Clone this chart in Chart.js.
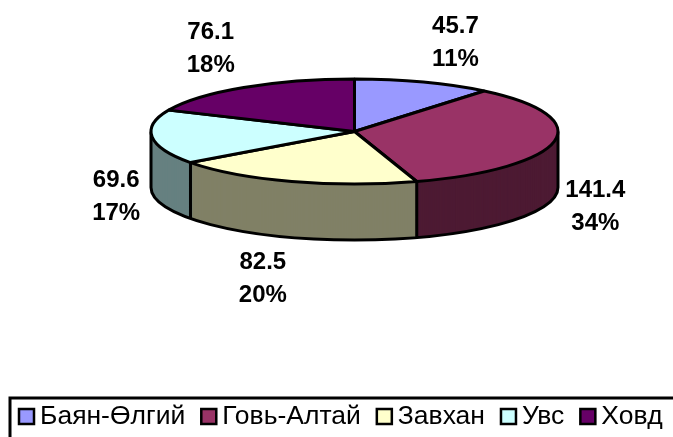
<!DOCTYPE html>
<html>
<head>
<meta charset="utf-8">
<style>
  html, body { margin: 0; padding: 0; background: #fff; overflow: hidden; }
  canvas { display: block; }
</style>
<script src="https://cdn.jsdelivr.net/npm/chart.js@4"></script>
</head>
<body>
<canvas id="pieChart" width="673" height="437"></canvas>
<script>
// Chart data
var categories = ['Баян-Өлгий', 'Говь-Алтай', 'Завхан', 'Увс', 'Ховд'];
var values = [45.7, 141.4, 82.5, 69.6, 76.1];

// Colours of the top face and the side wall
var topColors = ['#9999FF', '#993366', '#FFFFCC', '#CCFFFF', '#660066'];
var wallColors = ['#4D4D80', '#4D1A33', '#808066', '#668080', '#330033'];

// Where the tilted pie sits on the page
var tilt = { cx: 354.5, cy: 131.5, rx: 203.5, ry: 52.5, depth: 56 };

// Label offset from the rim point in the middle of each slice
var labelOffsets = [[32, -39], [41, 65], [-29, 97], [-36, 60], [-33, -39]];

var total = values.reduce(function (a, b) { return a + b; }, 0);

// Same transform for all copies of the pie, dy moves it down
function applyTilt(ctx, arc, dy) {
    var k = tilt.rx / arc.outerRadius;
    ctx.translate(tilt.cx, tilt.cy + dy);
    ctx.scale(k, k * tilt.ry / tilt.rx);
    ctx.translate(-arc.x, -arc.y);
}

function rimPoint(angle) {
    return { x: tilt.cx + tilt.rx * Math.cos(angle), y: tilt.cy + tilt.ry * Math.sin(angle) };
}

function drawCopy(ctx, arcs, colors, borderWidth, dy) {
    var base = ctx.getTransform();
    var nativeStroke = ctx.stroke;
    // path is built squashed, but the line keeps an even width
    ctx.stroke = function () {
        ctx.save();
        ctx.setTransform(base);
        nativeStroke.call(ctx);
        ctx.restore();
    };
    arcs.forEach(function (arc, i) {
        var copy = Object.create(arc);
        copy.options = Object.assign({}, arc.options, {
            backgroundColor: colors[i],
            borderColor: '#000',
            borderWidth: borderWidth
        });
        ctx.save();
        applyTilt(ctx, arc, dy);
        copy.draw(ctx);
        ctx.restore();
    });
    delete ctx.stroke;
}

function drawWallLines(ctx, arcs) {
    ctx.save();
    ctx.strokeStyle = '#000';
    ctx.lineWidth = 3;
    ctx.beginPath();
    ctx.ellipse(tilt.cx, tilt.cy + tilt.depth, tilt.rx, tilt.ry, 0, 0, Math.PI);
    ctx.moveTo(tilt.cx - tilt.rx, tilt.cy);
    ctx.lineTo(tilt.cx - tilt.rx, tilt.cy + tilt.depth);
    ctx.moveTo(tilt.cx + tilt.rx, tilt.cy);
    ctx.lineTo(tilt.cx + tilt.rx, tilt.cy + tilt.depth);
    arcs.forEach(function (arc) {
        if (Math.sin(arc.startAngle) > 0) {
            var p = rimPoint(arc.startAngle);
            ctx.moveTo(p.x, p.y);
            ctx.lineTo(p.x, p.y + tilt.depth);
        }
    });
    ctx.stroke();
    ctx.restore();
}

function drawLabels(ctx, arcs) {
    ctx.save();
    ctx.fillStyle = '#000';
    ctx.font = 'bold 24px "Liberation Sans"';
    ctx.textAlign = 'center';
    ctx.textBaseline = 'middle';
    arcs.forEach(function (arc, i) {
        var p = rimPoint((arc.startAngle + arc.endAngle) / 2);
        var x = p.x + labelOffsets[i][0];
        var y = p.y + labelOffsets[i][1];
        ctx.fillText(values[i].toFixed(1), x, y - 16.5);
        ctx.fillText(Math.round(values[i] / total * 100) + '%', x, y + 16.5);
    });
    ctx.restore();
}

function drawLegend(chart) {
    var ctx = chart.ctx;
    var items = chart.options.plugins.legend.labels.generateLabels(chart);
    ctx.save();
    ctx.strokeStyle = '#000';
    ctx.lineWidth = 3;
    ctx.strokeRect(10, 398, 680, 60);
    ctx.font = '26.5px "Liberation Sans"';
    ctx.textBaseline = 'middle';
    var x = 19;
    items.forEach(function (item) {
        ctx.fillStyle = item.fillStyle;
        ctx.lineWidth = 2.5;
        ctx.fillRect(x, 409, 15, 15);
        ctx.strokeRect(x, 409, 15, 15);
        ctx.fillStyle = '#000';
        ctx.fillText(item.text, x + 21, 417);
        x += 21 + ctx.measureText(item.text).width + 16;
    });
    ctx.restore();
}

var tiltedPie = {
    id: 'tiltedPie',
    beforeDatasetsDraw: function (chart) {
        var ctx = chart.ctx;
        var arcs = chart.getDatasetMeta(0).data;
        for (var dy = tilt.depth; dy > 0; dy--) {
            drawCopy(ctx, arcs, wallColors, 0, dy);
        }
        drawWallLines(ctx, arcs);
        drawCopy(ctx, arcs, topColors, 3, 0);
        drawLabels(ctx, arcs);
        drawLegend(chart);
        return false;
    }
};

function createPieChart() {
    var ctx = document.getElementById('pieChart').getContext('2d');
    return new Chart(ctx, {
        type: 'pie',
        data: {
            labels: categories,
            datasets: [{
                data: values,
                backgroundColor: topColors,
                borderColor: '#000',
                borderWidth: 3
            }]
        },
        options: {
            responsive: false,
            animation: false,
            plugins: {
                legend: { display: false },
                tooltip: { enabled: false }
            }
        },
        plugins: [tiltedPie]
    });
}

createPieChart();
</script>
</body>
</html>
